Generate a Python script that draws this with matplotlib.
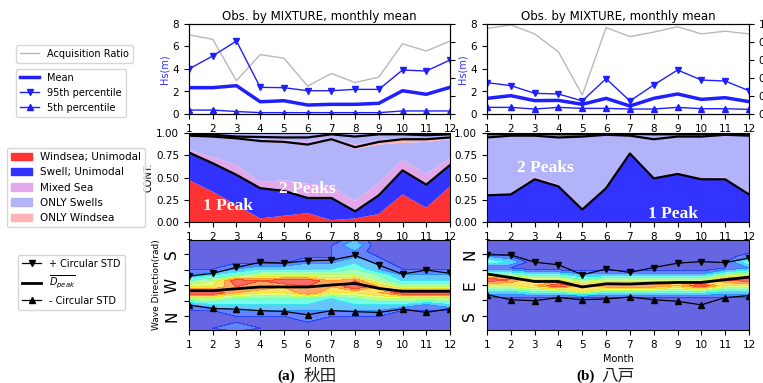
import numpy as np
import matplotlib
matplotlib.use('Agg')
import matplotlib.pyplot as plt
from matplotlib.lines import Line2D
from matplotlib.patches import Patch

plt.rcParams['font.size'] = 7.5

months = np.arange(1, 13)

# ---- Hs statistics (m) and acquisition ratio
akita_mean = [2.34, 2.34, 2.52, 1.09, 1.18, 0.80, 0.86, 0.86, 0.95, 2.07, 1.75, 2.37]
akita_p95 = [4.00, 5.16, 6.49, 2.37, 2.34, 2.07, 2.07, 2.19, 2.19, 3.91, 3.82, 4.80]
akita_p05 = [0.35, 0.35, 0.22, 0.12, 0.12, 0.12, 0.12, 0.12, 0.12, 0.27, 0.27, 0.27]
akita_acq = [0.88, 0.83, 0.37, 0.66, 0.62, 0.31, 0.45, 0.35, 0.41, 0.78, 0.70, 0.81]

hachi_mean = [1.39, 1.63, 1.19, 1.21, 0.86, 1.39, 0.71, 1.39, 1.78, 1.30, 1.45, 1.10]
hachi_p95 = [2.79, 2.52, 1.84, 1.78, 1.16, 3.14, 1.16, 2.58, 3.91, 3.02, 2.93, 2.07]
hachi_p05 = [0.59, 0.59, 0.44, 0.59, 0.50, 0.50, 0.44, 0.44, 0.59, 0.47, 0.47, 0.41]
hachi_acq = [0.95, 0.99, 0.89, 0.69, 0.21, 0.96, 0.86, 0.91, 0.97, 0.89, 0.92, 0.89]

# ---- wave type contributions (fraction)
akita_ws_uni = [0.47, 0.34, 0.19, 0.04, 0.07, 0.10, 0.02, 0.04, 0.09, 0.31, 0.16, 0.40]
akita_sw_uni = [0.31, 0.32, 0.34, 0.34, 0.28, 0.17, 0.25, 0.08, 0.21, 0.27, 0.26, 0.24]
akita_mixed2 = [0.03, 0.07, 0.11, 0.07, 0.12, 0.16, 0.13, 0.12, 0.14, 0.12, 0.12, 0.08]
akita_swells2 = [0.15, 0.22, 0.29, 0.45, 0.42, 0.43, 0.52, 0.58, 0.43, 0.19, 0.36, 0.21]
akita_wind2 = [0.01, 0.01, 0.01, 0.01, 0.01, 0.01, 0.01, 0.02, 0.03, 0.04, 0.03, 0.02]
akita_mixed3 = [0.005, 0.01, 0.01, 0.02, 0.02, 0.03, 0.02, 0.03, 0.02, 0.01, 0.01, 0.01]
akita_swells3 = [0.01, 0.01, 0.01, 0.025, 0.03, 0.05, 0.035, 0.09, 0.065, 0.045, 0.035, 0.025]

hachi_ws_uni = [0.0] * 12
hachi_sw_uni = [0.30, 0.31, 0.48, 0.40, 0.14, 0.38, 0.77, 0.49, 0.54, 0.48, 0.48, 0.31]
hachi_mixed2 = [0.01, 0.01, 0.03, 0.02, 0.01, 0.01, 0.01, 0.01, 0.02, 0.01, 0.02, 0.01]
hachi_swells2 = [0.64, 0.65, 0.46, 0.53, 0.81, 0.59, 0.19, 0.43, 0.39, 0.465, 0.48, 0.65]
hachi_wind2 = [0.0, 0.0, 0.0, 0.0, 0.0, 0.0, 0.0, 0.0, 0.01, 0.005, 0.0, 0.0]
hachi_mixed3 = [0.005] * 12
hachi_swells3 = [0.03, 0.015, 0.015, 0.03, 0.02, 0.005, 0.015, 0.05, 0.02, 0.02, 0.005, 0.01]

# ---- peak direction (rad)
akita_dir = [5.00, 5.00, 4.90, 4.81, 4.81, 4.81, 4.71, 4.63, 4.88, 5.03, 5.03, 5.03]
akita_dir_plus = [4.26, 4.12, 3.82, 3.56, 3.60, 3.48, 3.45, 3.21, 3.70, 4.16, 3.95, 4.12]
akita_dir_minus = [5.73, 5.90, 5.93, 6.01, 6.05, 6.22, 6.01, 6.06, 6.10, 5.93, 6.10, 5.91]

hachi_dir = [1.01, 1.19, 1.39, 1.39, 1.67, 1.51, 1.52, 1.47, 1.44, 1.44, 1.30, 1.17]
hachi_dir_plus = [0.04, 0.04, 0.41, 0.54, 1.05, 0.76, 0.93, 0.68, 0.46, 0.38, 0.43, 0.20]
hachi_dir_minus = [2.06, 2.32, 2.37, 2.21, 2.32, 2.28, 2.18, 2.32, 2.40, 2.58, 2.21, 2.11]

# direction density (0-10) per direction row x month
akita_rows = np.linspace(2.4, 7.2, 17)
akita_density = [
    [0, 0, 0, 0, 0, 0, 0, 2, 0, 0, 0, 0],
    [0, 0, 0, 0, 0, 0, 1, 3, 0, 0, 0, 0],
    [0, 0, 0, 0, 0, 0, 1, 2, 0, 0, 0, 0],
    [0, 0, 0, 0, 1, 1, 1, 2, 1, 0, 0, 0],
    [0, 0, 1, 1, 1, 2, 2, 3, 2, 0, 0, 0],
    [1, 1, 2, 3, 3, 3, 3, 4, 2, 1, 1, 1],
    [2, 3, 4, 5, 5, 5, 5, 5, 4, 2, 2, 2],
    [4, 5, 9, 8, 9, 9, 7, 8, 5, 3, 3, 3],
    [6, 6, 8, 8, 7, 8, 7, 9, 7, 5, 5, 5],
    [9, 9, 7, 6, 6, 8, 6, 6, 7, 9, 9, 9],
    [5, 5, 4, 4, 4, 4, 3, 4, 5, 5, 5, 5],
    [2, 3, 3, 3, 3, 3, 3, 3, 3, 3, 2, 3],
    [1, 1, 2, 2, 2, 2, 2, 2, 2, 1, 1, 1],
    [1, 1, 1, 1, 1, 2, 1, 1, 1, 0, 0, 1],
    [0, 1, 1, 1, 1, 1, 1, 1, 0, 0, 0, 0],
    [0, 1, 2, 1, 1, 1, 1, 1, 0, 0, 0, 0],
    [0, 0, 0, 0, 0, 0, 0, 0, 0, 0, 0, 0],
]
hachi_rows = np.linspace(-0.8, 4.0, 17)
hachi_density = [
    [0, 0, 0, 0, 0, 0, 0, 0, 0, 0, 0, 0],
    [0, 0, 0, 0, 0, 0, 0, 0, 0, 0, 0, 0],
    [0, 0, 0, 0, 0, 0, 0, 0, 0, 0, 0, 0],
    [2, 1, 0, 0, 0, 0, 0, 0, 0, 0, 0, 2],
    [4, 3, 0, 0, 0, 0, 0, 0, 0, 0, 1, 4],
    [1, 1, 0, 0, 0, 0, 0, 0, 0, 0, 1, 2],
    [4, 4, 3, 3, 2, 2, 2, 2, 2, 2, 4, 5],
    [9, 8, 6, 6, 4, 5, 5, 5, 5, 5, 8, 9],
    [6, 6, 7, 9, 7, 8, 8, 8, 7, 9, 6, 6],
    [3, 3, 4, 4, 6, 4, 4, 4, 4, 4, 3, 3],
    [1, 1, 1, 1, 1, 1, 1, 1, 1, 1, 1, 1],
    [0, 0, 0, 0, 0, 0, 0, 0, 0, 0, 0, 0],
    [0, 0, 0, 0, 0, 0, 0, 0, 0, 0, 0, 0],
    [0, 0, 0, 0, 0, 0, 0, 0, 0, 0, 0, 0],
    [0, 0, 0, 0, 0, 0, 0, 0, 0, 0, 0, 0],
    [0, 0, 0, 0, 0, 0, 0, 0, 0, 0, 0, 0],
    [0, 0, 0, 0, 0, 0, 0, 0, 0, 0, 0, 0],
]

c_red = '#ff3333'
c_blue = '#3333ff'
c_mixed = '#e3a8ea'
c_swells = '#b3b3fa'
c_wind = '#ffb3b3'
c_line = '#1f1fff'

fig = plt.figure(figsize=(7.63, 3.83), dpi=100)
W, H = 763.0, 383.0


def box(x0, x1, y0, y1):
    return [x0 / W, 1 - y1 / H, (x1 - x0) / W, (y1 - y0) / H]


def top_panel(ax, mean, p95, p05, acq, show_right):
    ax2 = ax.twinx()
    ax2.plot(months, acq, color='#b8b8b8', lw=1)
    ax2.set_ylim(0, 1)
    ax2.set_yticks([0, 0.2, 0.4, 0.6, 0.8, 1.0])
    if not show_right:
        ax2.set_yticklabels([])
    ax.set_zorder(ax2.get_zorder() + 1)
    ax.patch.set_visible(False)
    ax.plot(months, mean, color=c_line, lw=2.5)
    ax.plot(months, p95, color=c_line, lw=1, marker='v', ms=5)
    ax.plot(months, p05, color=c_line, lw=1, marker='^', ms=5)
    ax.set_xlim(1, 12)
    ax.set_ylim(0, 8)
    ax.set_xticks(months)
    ax.set_yticks([0, 2, 4, 6, 8])
    ax.set_ylabel('Hs(m)', color='#3030ff', fontsize=7, labelpad=2)
    ax.set_title('Obs. by MIXTURE, monthly mean', fontsize=8.5, pad=3)


def mid_panel(ax, ws, sw, mx2, s2, w2, mx3, s3):
    ws, sw, mx2, s2, w2, mx3, s3 = [np.array(a) for a in (ws, sw, mx2, s2, w2, mx3, s3)]
    one = ws + sw
    two = one + mx2 + s2 + w2
    three = two + mx3 + s3
    rest = 1 - three
    ax.stackplot(months, ws, sw, mx2, s2, w2, mx3, s3, rest,
                 colors=[c_red, c_blue, c_mixed, c_swells, c_wind, c_mixed, c_swells, c_swells],
                 lw=0)
    for b in (one, two, three):
        ax.plot(months, b, color='black', lw=1.6)
    ax.set_xlim(1, 12)
    ax.set_ylim(0, 1)
    ax.set_xticks(months)
    ax.set_yticks([0, 0.25, 0.5, 0.75, 1.0])
    ax.set_yticklabels(['0.00', '0.25', '0.50', '0.75', '1.00'])


def dir_panel(ax, rows, dens, d, dp, dm, yl, ticks, labels):
    ax.contourf(months, rows, np.array(dens) / 10.0, levels=np.linspace(0, 1, 11),
                cmap='jet', vmin=-0.02, vmax=0.95, alpha=0.6)
    ax.plot(months, dp, color='black', lw=0.9, marker='v', ms=5)
    ax.plot(months, d, color='black', lw=2)
    ax.plot(months, dm, color='black', lw=0.9, marker='^', ms=5)
    ax.set_xlim(1, 12)
    ax.set_ylim(*yl)
    ax.set_xticks(months)
    ax.set_yticks(ticks)
    ax.set_yticklabels(labels, rotation=90, fontsize=11, va='center')
    ax.set_xlabel('Month', fontsize=7, labelpad=3)


axA1 = fig.add_axes(box(189, 450, 24, 114))
axB1 = fig.add_axes(box(487, 749, 24, 114))
axA2 = fig.add_axes(box(189, 450, 133, 222))
axB2 = fig.add_axes(box(487, 749, 133, 222))
axA3 = fig.add_axes(box(189, 450, 240, 330))
axB3 = fig.add_axes(box(487, 749, 240, 330))

top_panel(axA1, akita_mean, akita_p95, akita_p05, akita_acq, False)
top_panel(axB1, hachi_mean, hachi_p95, hachi_p05, hachi_acq, True)

mid_panel(axA2, akita_ws_uni, akita_sw_uni, akita_mixed2, akita_swells2, akita_wind2,
          akita_mixed3, akita_swells3)
mid_panel(axB2, hachi_ws_uni, hachi_sw_uni, hachi_mixed2, hachi_swells2, hachi_wind2,
          hachi_mixed3, hachi_swells3)
axA2.set_ylabel('CONT.', fontsize=7, labelpad=2)

peak_font = dict(color='white', fontsize=12.5, fontweight='bold', family='Liberation Serif',
                 va='center', ha='left')
axA2.text(1.6, 0.18, '1 Peak', **peak_font)
axA2.text(4.78, 0.37, '2 Peaks', **peak_font)
axB2.text(2.26, 0.61, '2 Peaks', **peak_font)
axB2.text(7.76, 0.09, '1 Peak', **peak_font)

dir_panel(axA3, akita_rows, akita_density, akita_dir, akita_dir_plus, akita_dir_minus,
          (6.99, 2.43), [np.pi, 1.25 * np.pi, 1.5 * np.pi, 1.75 * np.pi, 2 * np.pi],
          ['S', '', 'W', '', 'N'])
dir_panel(axB3, hachi_rows, hachi_density, hachi_dir, hachi_dir_plus, hachi_dir_minus,
          (3.86, -0.72), [0, 0.25 * np.pi, 0.5 * np.pi, 0.75 * np.pi, np.pi],
          ['N', '', 'E', '', 'S'])
axA3.set_ylabel('Wave Direction(rad)', fontsize=6.5, labelpad=2)

# legends on the left
leg_kw = dict(loc='upper left', fontsize=7, borderaxespad=0)
fig.legend([Line2D([], [], color='#b8b8b8', lw=1)], ['Acquisition Ratio'],
           bbox_to_anchor=(16 / W, 1 - 45 / H), **leg_kw)
fig.legend([Line2D([], [], color=c_line, lw=2.5),
            Line2D([], [], color=c_line, lw=1, marker='v', ms=5),
            Line2D([], [], color=c_line, lw=1, marker='^', ms=5)],
           ['Mean', '95th percentile', '5th percentile'],
           bbox_to_anchor=(16 / W, 1 - 69 / H), **leg_kw)
fig.legend([Patch(color=c_red), Patch(color=c_blue), Patch(color=c_mixed),
            Patch(color=c_swells), Patch(color=c_wind)],
           ['Windsea; Unimodal', 'Swell; Unimodal', 'Mixed Sea', 'ONLY Swells', 'ONLY Windsea'],
           bbox_to_anchor=(7 / W, 1 - 148 / H), loc='upper left', fontsize=7.5, borderaxespad=0)
fig.legend([Line2D([], [], color='black', lw=0.9, marker='v', ms=5),
            Line2D([], [], color='black', lw=2),
            Line2D([], [], color='black', lw=0.9, marker='^', ms=5)],
           ['+ Circular STD', r'$\overline{D_{peak}}$', '- Circular STD'],
           bbox_to_anchor=(18 / W, 1 - 255 / H), **leg_kw)

# captions
fig.text(295 / W, 1 - 376 / H, '(a)', family='Liberation Serif', fontweight='bold',
         fontsize=11, ha='right', va='center')
fig.text(304 / W, 1 - 376 / H, '秋田', family='Noto Sans CJK JP', fontsize=12,
         ha='left', va='center', color='#222222')
fig.text(595 / W, 1 - 376 / H, '(b)', family='Liberation Serif', fontweight='bold',
         fontsize=11, ha='right', va='center')
fig.text(601 / W, 1 - 376 / H, '八戸', family='Noto Sans CJK JP', fontsize=12,
         ha='left', va='center', color='#222222')

plt.savefig('out.png', dpi=100)
